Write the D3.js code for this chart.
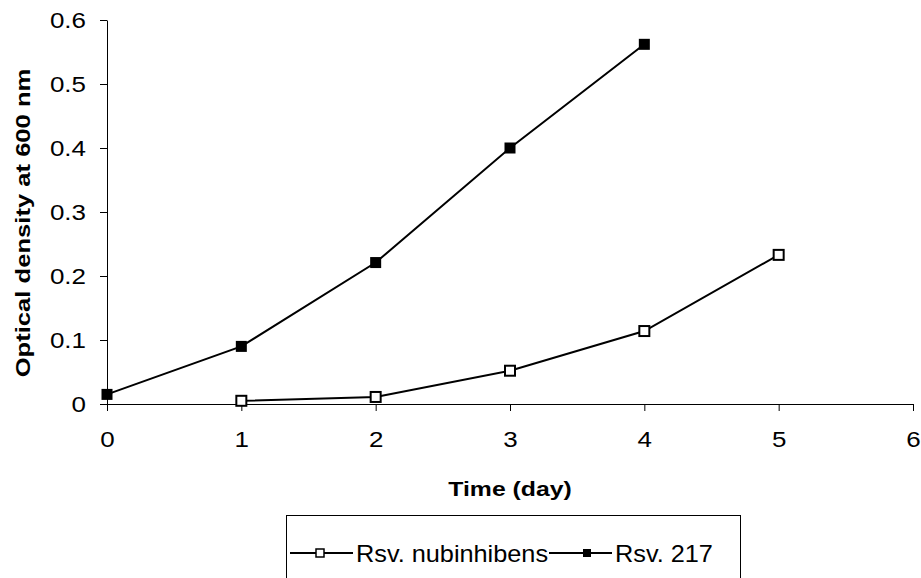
<!DOCTYPE html>
<html>
<head>
<meta charset="utf-8">
<script src="https://cdn.jsdelivr.net/npm/d3@7"></script>
<style>
  body { margin: 0; background: #fff; }
  text { font-family: "Liberation Sans", Arial, sans-serif; fill: #000; }
</style>
</head>
<body>
<div id="chart"></div>
<script>
// data
const dayTicks = [0, 1, 2, 3, 4, 5, 6];
const odTicks = [0, 0.1, 0.2, 0.3, 0.4, 0.5, 0.6];
const nubinhibensDays = [1, 2, 3, 4, 5];
const nubinhibensOD = [0.005, 0.011, 0.052, 0.114, 0.233];
const rsv217Days = [0, 1, 2, 3, 4];
const rsv217OD = [0.015, 0.09, 0.221, 0.40, 0.562];
const seriesNames = ['Rsv. nubinhibens', 'Rsv. 217'];
const xTitle = 'Time (day)';
const yTitle = 'Optical density at 600 nm';

const width = 921;
const height = 578;
const margin = { top: 20, right: 8, bottom: 174, left: 107 };
const fontSize = 22;
const stretch = 1.18; // the original font renders wide
const legendStretch = 1.1;

const series = [
  { name: seriesNames[0], filled: false, points: nubinhibensDays.map((d, i) => ({ x: d, y: nubinhibensOD[i] })) },
  { name: seriesNames[1], filled: true, points: rsv217Days.map((d, i) => ({ x: d, y: rsv217OD[i] })) },
];

const x = d3.scaleLinear().domain([0, 6]).range([margin.left, width - margin.right]);
const y = d3.scaleLinear().domain([0, 0.6]).range([height - margin.bottom, margin.top]);

const svg = d3.select('#chart')
  .append('svg')
  .attr('width', width)
  .attr('height', height);

// axes
const xAxis = svg.append('g')
  .attr('class', 'axis x')
  .attr('transform', `translate(0,${y(0)})`)
  .call(d3.axisBottom(x).tickValues(dayTicks).tickSize(7).tickSizeOuter(0)
    .tickFormat(d3.format('d')));

xAxis.selectAll('text')
  .attr('y', 43)
  .attr('dy', 0)
  .style('font-size', `${fontSize}px`)
  .attr('transform', `scale(${stretch},1)`);

const yAxis = svg.append('g')
  .attr('class', 'axis y')
  .attr('transform', `translate(${x(0)},0)`)
  .call(d3.axisLeft(y).tickValues(odTicks).tickSize(7).tickSizeOuter(0)
    .tickFormat((d) => (d === 0 ? '0' : d3.format('.1f')(d))));

yAxis.selectAll('text')
  .attr('x', -21 / stretch)
  .attr('dy', '0.36em')
  .style('font-size', `${fontSize}px`)
  .attr('transform', `scale(${stretch},1)`);

svg.selectAll('.axis path, .axis line')
  .attr('stroke', '#000')
  .attr('stroke-width', 1);
svg.selectAll('.axis text').attr('fill', '#000').attr('font-family', null);

// titles
svg.append('text')
  .attr('transform', `translate(${(x(0) + x(6)) / 2},496) scale(${stretch},1)`)
  .attr('text-anchor', 'middle')
  .style('font-size', '21px')
  .style('font-weight', 'bold')
  .text(xTitle);

svg.append('text')
  .attr('transform', `translate(30,223) rotate(-90) scale(${stretch + 0.04},1)`)
  .attr('text-anchor', 'middle')
  .style('font-size', '21px')
  .style('font-weight', 'bold')
  .text(yTitle);

// lines + markers
const line = d3.line().x((d) => x(d.x)).y((d) => y(d.y));

const groups = svg.selectAll('g.series')
  .data(series)
  .join('g')
  .attr('class', 'series');

groups.append('path')
  .attr('d', (d) => line(d.points))
  .attr('fill', 'none')
  .attr('stroke', '#000')
  .attr('stroke-width', 2);

groups.each(function (s) {
  const size = s.filled ? 11 : 10;
  d3.select(this).selectAll('rect')
    .data(s.points)
    .join('rect')
    .attr('x', (d) => x(d.x) - size / 2)
    .attr('y', (d) => y(d.y) - size / 2)
    .attr('width', size)
    .attr('height', size)
    .attr('fill', s.filled ? '#000' : '#fff')
    .attr('stroke', '#000')
    .attr('stroke-width', s.filled ? 0 : 2);
});

// legend
const legend = svg.append('g').attr('class', 'legend');
legend.append('rect')
  .attr('x', 286.5)
  .attr('y', 515.5)
  .attr('width', 454)
  .attr('height', 80)
  .attr('fill', '#fff')
  .attr('stroke', '#000')
  .attr('stroke-width', 1);

const legendX = [290, 549];
const items = legend.selectAll('g.item')
  .data(series)
  .join('g')
  .attr('class', 'item')
  .attr('transform', (d, i) => `translate(${legendX[i]},553)`);

items.append('line')
  .attr('x1', 0)
  .attr('x2', 63)
  .attr('stroke', '#000')
  .attr('stroke-width', 2);

items.append('rect')
  .attr('x', (d) => (d.filled ? 38 : 30) - 4)
  .attr('y', -4)
  .attr('width', 8)
  .attr('height', 8)
  .attr('fill', (d) => (d.filled ? '#000' : '#fff'))
  .attr('stroke', '#000')
  .attr('stroke-width', (d) => (d.filled ? 0 : 1.5));

items.append('text')
  .attr('transform', `translate(66,9) scale(${legendStretch},1)`)
  .style('font-size', '23px')
  .text((d) => d.name);
</script>
</body>
</html>
